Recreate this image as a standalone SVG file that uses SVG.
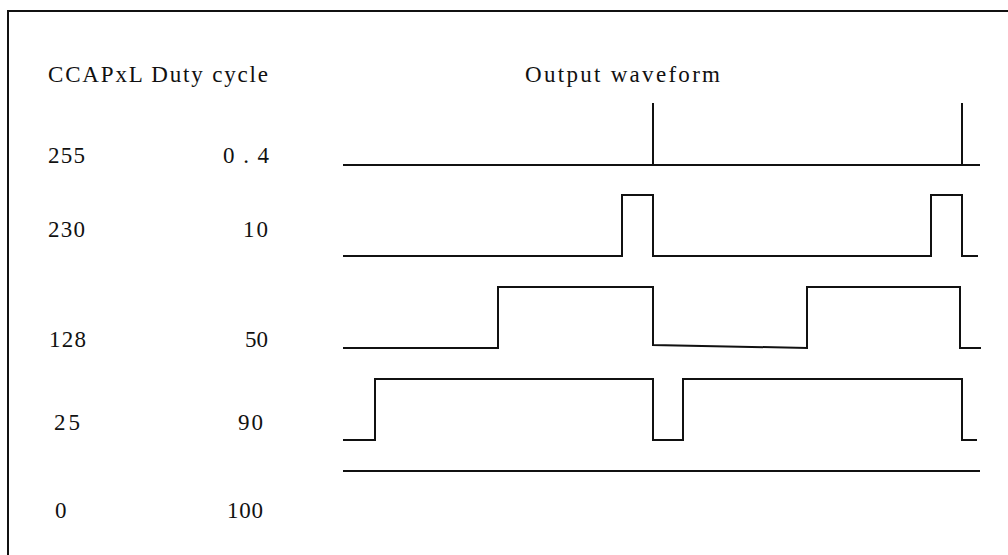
<svg xmlns="http://www.w3.org/2000/svg" width="1008" height="555" viewBox="0 0 1008 555">
<style>
.t{font-family:"Liberation Serif","DejaVu Serif",serif;font-size:23px;fill:#111}
.w{fill:none;stroke:#111;stroke-width:2}
</style>
<rect x="0" y="0" width="1008" height="555" fill="#fff"/>
<g id="frame"><polyline class="w" points="8,556 8,11 1010,11"/></g>
<g id="labels">
<text class="t" x="48" y="82" textLength="220" lengthAdjust="spacing">CCAPxL Duty cycle</text>
<text class="t" x="525" y="82" textLength="195" lengthAdjust="spacing">Output waveform</text>
<text class="t" x="48" y="163" textLength="37" lengthAdjust="spacing">255</text>
<text class="t" x="223" y="163" textLength="46" lengthAdjust="spacing">0.4</text>
<text class="t" x="48" y="237" textLength="37" lengthAdjust="spacing">230</text>
<text class="t" x="243" y="237" textLength="25" lengthAdjust="spacing">10</text>
<text class="t" x="49" y="347" textLength="37" lengthAdjust="spacing">128</text>
<text class="t" x="245" y="347" textLength="23" lengthAdjust="spacing">50</text>
<text class="t" x="54" y="430" textLength="26" lengthAdjust="spacing">25</text>
<text class="t" x="238" y="430" textLength="25" lengthAdjust="spacing">90</text>
<text class="t" x="55" y="518">0</text>
<text class="t" x="227" y="518" textLength="36" lengthAdjust="spacing">100</text>
</g>
<g id="waveforms">
<g id="w255"><polyline class="w" points="343,165 980,165"/><line class="w" x1="653" y1="103" x2="653" y2="165"/><line class="w" x1="962" y1="103" x2="962" y2="165"/></g>
<g id="w230"><polyline class="w" points="343,256 622,256 622,195 653,195 653,256 931,256 931,195 962,195 962,256 978,256"/></g>
<g id="w128"><polyline class="w" points="343,348 498,348 498,287 653,287 653,345 807,348 807,287 960,287 960,348 981,348"/></g>
<g id="w25"><polyline class="w" points="343,440 375,440 375,379 653,379 653,440 683,440 683,379 962,379 962,440 977,440"/></g>
<g id="w0"><line class="w" x1="343" y1="471" x2="980" y2="471"/></g>
</g>
</svg>
